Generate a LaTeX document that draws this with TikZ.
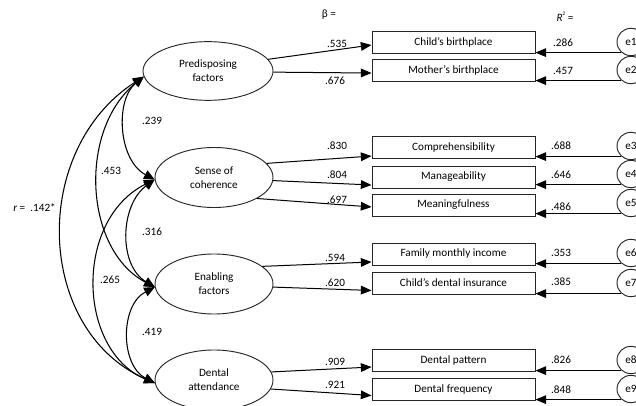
\documentclass[tikz,border=0pt]{standalone}
\usepackage{fontspec}
\setmainfont{Carlito}
\usetikzlibrary{arrows.meta,shapes.geometric}
\begin{document}
\begin{tikzpicture}[x=0.75pt,y=-0.75pt,
  every node/.style={font=\fontsize{8.4}{10.5}\selectfont, inner sep=0pt},
  latent/.style={ellipse, draw=black!85, line width=0.7pt, minimum width=88.5pt, minimum height=45pt, align=center},
  obs/.style={rectangle, draw=black!85, line width=0.7pt, minimum width=122.25pt, minimum height=16.5pt},
  err/.style={ellipse, draw=black!85, line width=0.7pt, minimum width=21pt, minimum height=20.5pt},
  tip/.style={-{Triangle[length=8pt,width=6.5pt]}, line width=0.75pt},
  cov/.style={{Triangle[length=8pt,width=7pt]}-{Triangle[length=8pt,width=7pt]}, line width=0.8pt}]
\useasboundingbox (0,0) rectangle (636,406);
\clip (0,0) rectangle (636,406);

% latent variables
\node[latent, minimum width=97.5pt, minimum height=44pt] (pred) at (208,71) {Predisposing\\factors};
\node[latent] (sense) at (214,177.5) {Sense of\\coherence};
\node[latent] (enab) at (214,284) {Enabling\\factors};
\node[latent] (dent) at (214,380) {Dental\\attendance};

% observed variables
\node[obs] (b1) at (453.5,42) {Child’s birthplace};
\node[obs] (b2) at (453.5,70.5) {Mother’s birthplace};
\node[obs] (b3) at (453.5,147.5) {Comprehensibility};
\node[obs] (b4) at (453.5,177) {Manageability};
\node[obs] (b5) at (453.5,205) {Meaningfulness};
\node[obs] (b6) at (453.5,254) {Family monthly income};
\node[obs] (b7) at (453.5,283) {Child’s dental insurance};
\node[obs] (b8) at (453.5,360.5) {Dental pattern};
\node[obs] (b9) at (453.5,389.5) {Dental frequency};

% error terms
\node[err] (e1) at (631,42) {e1};
\node[err] (e2) at (631,70) {e2};
\node[err] (e3) at (631,146) {e3};
\node[err] (e4) at (631,174) {e4};
\node[err] (e5) at (631,203) {e5};
\node[err] (e6) at (631,253) {e6};
\node[err] (e7) at (631,283) {e7};
\node[err] (e8) at (631,360) {e8};
\node[err] (e9) at (631,389) {e9};

% loadings
\draw[tip] (pred.11) -- ([yshift=-2.25pt]b1.west);
\draw[tip] (pred.359) -- ([yshift=-1.9pt]b2.west);
\draw[tip] (sense.15) -- ([yshift=-6.4pt]b3.west);
\draw[tip] (sense.357) -- ([yshift=-6pt]b4.west);
\draw[tip] (sense.334) -- ([yshift=-1.5pt]b5.west);
\draw[tip] (enab.20) -- ([yshift=-6pt]b6.west);
\draw[tip] (enab.357) -- ([yshift=-5.6pt]b7.west);
\draw[tip] (dent.8) -- ([yshift=-4.9pt]b8.west);
\draw[tip] (dent.351) -- ([yshift=-4.5pt]b9.west);

% error arrows
\foreach \e/\b in {e1/b1,e2/b2,e3/b3,e4/b4,e5/b5,e6/b6,e7/b7,e8/b8,e9/b9}{
  \draw[tip] (\e.228) -- (\e.228 -| \b.east);
}

% covariances
\draw[cov] (pred.185) .. controls (115,100) and (118,160) .. (sense.182);
\draw[cov] (pred.185) .. controls (78,130) and (84,250) .. (enab.183);
\draw[cov] (pred.185) .. controls (30,150) and (35,330) .. (dent.183);
\draw[cov] (sense.182) .. controls (120,205) and (118,265) .. (enab.183);
\draw[cov] (sense.182) .. controls (74,220) and (77,350) .. (dent.183);
\draw[cov] (enab.183) .. controls (120,305) and (120,365) .. (dent.183);

% covariance labels
\node (c1) at (152,121) {.239};
\node (c2) at (111,171) {.453};
\node[anchor=west] (c3) at (13,208) {\textit{r} =\ \ .142*};
\node (c4) at (152,232) {.316};
\node (c5) at (110,280) {.265};
\node (c6) at (152,332) {.419};

% beta labels
\node (l1) at (337,44) {.535};
\node (l2) at (335,81) {.676};
\node (l3) at (337,146) {.830};
\node (l4) at (337,175) {.804};
\node (l5) at (337,200) {.697};
\node (l6) at (335,258) {.594};
\node (l7) at (335,283) {.620};
\node (l8) at (335,362) {.909};
\node (l9) at (335,385) {.921};

% R2 labels
\node (r1) at (563,43) {.286};
\node (r2) at (563,71) {.457};
\node (r3) at (561,146) {.688};
\node (r4) at (561,175) {.646};
\node (r5) at (561,207) {.486};
\node (r6) at (561,253) {.353};
\node (r7) at (561,282) {.385};
\node (r8) at (561,360) {.826};
\node (r9) at (561,390) {.848};

% headers
\node (hb) at (329,15) {β =};
\node (hr) at (565,17) {\textit{R}\raisebox{1.2ex}{\fontsize{4}{4}\selectfont 2} =};
\end{tikzpicture}
\end{document}
